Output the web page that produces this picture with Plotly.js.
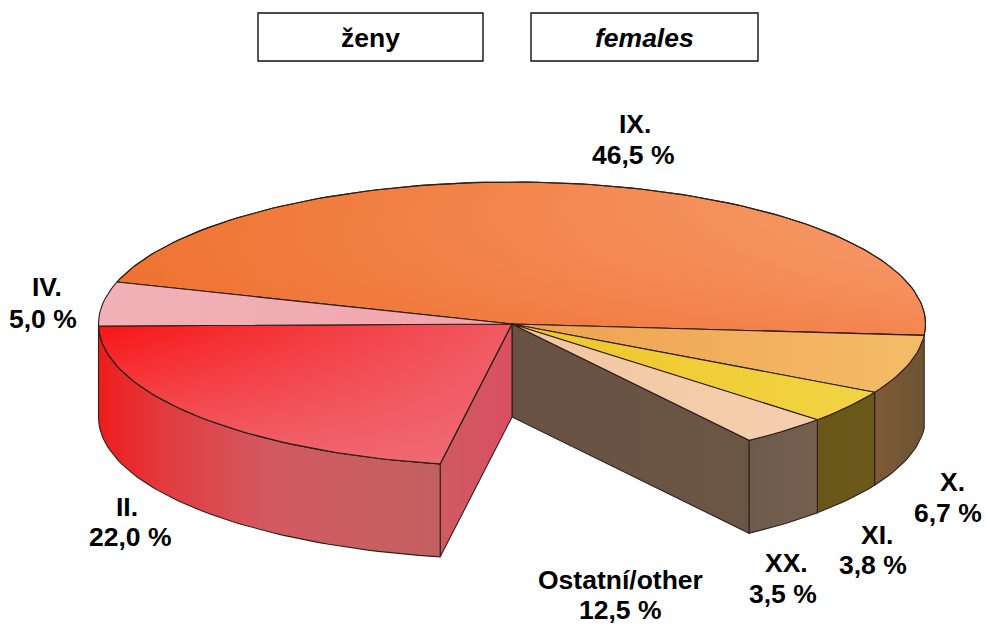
<!DOCTYPE html>
<html>
<head>
<meta charset="utf-8">
<script src="https://cdn.plot.ly/plotly-3.0.1.min.js"></script>
<style>html,body{margin:0;padding:0;background:#fff}#c{width:987px;height:625px}</style>
</head>
<body>
<div id="c"></div>
<script>
// Data
const categories = ['IX.', 'X.', 'XI.', 'XX.', 'Ostatní/other', 'II.', 'IV.'];
const values = [46.5, 6.7, 3.8, 3.5, 12.5, 22.0, 5.0];
const valueLabels = ['46,5 %', '6,7 %', '3,8 %', '3,5 %', '12,5 %', '22,0 %', '5,0 %'];
const boxTexts = ['ženy', '<i>females</i>'];
const exploded = ['Ostatní/other']; // this slice is removed from the pie

// Label anchor positions (px)
const nameX = [635, 952, 877, 786, 620, 127, 47];
const nameY = [124, 482, 535, 563, 580, 507, 287];
const valueX = [633, 948, 873, 783, 620, 130, 43];
const valueY = [155, 513, 565, 594, 610, 537, 319];

// Styles
const topColors = [
  ['#ee702c', '#f79c6c'], ['#efa050', '#f4bc68'], ['#efc52c', '#f2d443'], ['#f2c7a0', '#f4cfae'],
  null, ['#f81414', '#f05a64'], ['#f0b2b8', '#f2a4ac']
];
const topOverlays = {
  0: [[0, 'rgba(240,105,45,0.45)'], [1, 'rgba(245,150,100,0)']],
  5: [[0, 'rgba(240,110,120,0.85)'], [1, 'rgba(240,110,120,0)']]
};
const wallColors = [
  null, ['#7e5a36', '#6c5433'], ['#6a5618', '#6a5a1a'], ['#6e5a4c', '#75604f'],
  null, [[0, '#ee1c1c'], [0.2, '#e23c40'], [0.5, '#d25a60'], [1, '#c26060']], null
];
const edge = '#2e2018';
const font = { family: 'Liberation Sans, Arial, sans-serif', size: 26.5, color: '#000' };

// Pie geometry (px)
const cx = 512, cy = 324, rx = 413.5, ry = 142, depth = 93, startAngle = 162.8;
const rad = d => d * Math.PI / 180;
const px = a => cx + rx * Math.cos(rad(a));
const py = a => cy - ry * Math.sin(rad(a));
const total = values.reduce((s, v) => s + v, 0);

function arc(a0, a1) {
  const n = Math.max(2, Math.ceil(Math.abs(a1 - a0) / 1.5));
  const out = [];
  for (let i = 0; i <= n; i++) out.push(a0 + (a1 - a0) * i / n);
  return out;
}
function scale(c) { return Array.isArray(c[0]) ? c : [[0, c[0]], [1, c[1]]]; }
function poly(xs, ys, colors, type) {
  return {
    type: 'scatter', mode: 'lines', x: xs, y: ys, fill: 'toself',
    line: { color: edge, width: 1.1 }, hoverinfo: 'skip', showlegend: false,
    fillgradient: { type: type || 'horizontal', colorscale: scale(colors) }
  };
}

// Slice angles (clockwise from start)
const spans = [];
let ang = startAngle;
values.forEach(v => { const s = v / total * 360; spans.push([ang, ang - s]); ang -= s; });

const traces = [];
// Inner faces around the removed slice
categories.forEach((c, i) => {
  if (!exploded.includes(c)) return;
  const [a0, a1] = spans[i];
  traces.push(poly([cx, px(a0), px(a0), cx, cx], [cy, py(a0), py(a0) + depth, cy + depth, cy],
    ['#675243', '#6b5646']));
  traces.push(poly([cx, px(a1), px(a1), cx, cx], [cy, py(a1), py(a1) + depth, cy + depth, cy],
    ['#cf5a62', '#d94f62']));
});
// Outer walls (only the front half shows)
categories.forEach((c, i) => {
  if (!wallColors[i]) return;
  const from = Math.min(spans[i][0], 0);
  const to = i === 5 ? -180 : spans[i][1];
  const a = arc(from, to);
  const xs = a.map(px).concat(a.slice().reverse().map(px));
  const ys = a.map(py).concat(a.slice().reverse().map(v => py(v) + depth));
  xs.push(xs[0]); ys.push(ys[0]);
  traces.push(poly(xs, ys, wallColors[i]));
});
// Top faces
categories.forEach((c, i) => {
  if (!topColors[i]) return;
  const a = arc(spans[i][0], spans[i][1]);
  const xs = [cx].concat(a.map(px), [cx]);
  const ys = [cy].concat(a.map(py), [cy]);
  traces.push(poly(xs, ys, topColors[i]));
  if (topOverlays[i]) traces.push(poly(xs, ys, topOverlays[i], 'vertical'));
});

const annotations = [];
categories.forEach((c, i) => {
  annotations.push({ x: nameX[i], y: nameY[i], xref: 'x', yref: 'y', showarrow: false, text: '<b>' + c + '</b>', font });
  annotations.push({ x: valueX[i], y: valueY[i], xref: 'x', yref: 'y', showarrow: false, text: '<b>' + valueLabels[i] + '</b>', font });
});
const boxes = [[258, 483], [531, 758]];
boxes.forEach((b, i) => annotations.push({
  x: (b[0] + b[1]) / 2, y: 38, xref: 'x', yref: 'y', showarrow: false,
  text: '<b>' + boxTexts[i] + '</b>', font
}));
const shapes = boxes.map(b => ({
  type: 'rect', xref: 'x', yref: 'y', x0: b[0], x1: b[1], y0: 13, y1: 61,
  line: { color: '#111', width: 1.4 }, fillcolor: '#fff'
}));

Plotly.newPlot('c', traces, {
  width: 987, height: 625, margin: { l: 0, r: 0, t: 0, b: 0 },
  paper_bgcolor: '#fff', plot_bgcolor: '#fff', showlegend: false,
  xaxis: { range: [0, 987], visible: false, fixedrange: true },
  yaxis: { range: [625, 0], visible: false, fixedrange: true },
  annotations, shapes
}, { displayModeBar: false, staticPlot: true });
</script>
</body>
</html>
